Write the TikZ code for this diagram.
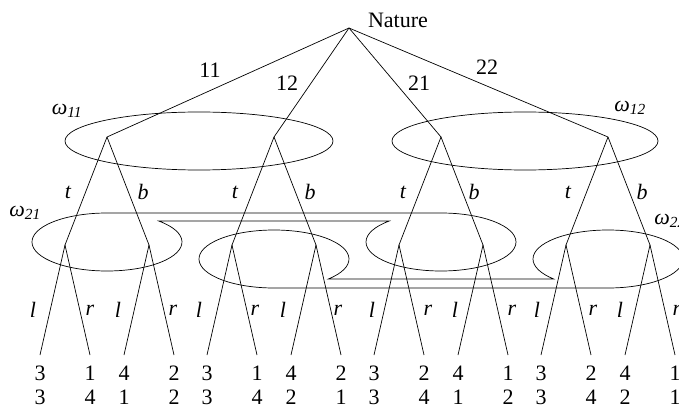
\documentclass[tikz,border=0pt]{standalone}
\usepackage{fontspec}
\setmainfont{Liberation Serif}
\usetikzlibrary{positioning}

\begin{document}
\begin{tikzpicture}[
    x=1pt, y=1pt,
    line width=0.7pt,
    font=\fontsize{22}{24}\selectfont,
    move label/.style={inner sep=0pt},
    act label/.style={inner sep=0pt,font=\fontsize{22}{24}\selectfont\itshape},
    set label/.style={inner sep=0pt},
    payoff/.style={align=center,inner sep=0pt,font=\fontsize{22}{24}\selectfont},
    info set/.style={draw,line width=0.7pt}
]
\useasboundingbox (0,0) rectangle (679,410);
\clip (0,0) rectangle (679,410);

% Nature
\coordinate (nature) at (349,382);
\node[move label] (naturelbl) at (398,390) {Nature};

% Player 1 nodes
\coordinate (n11) at (107,273);
\coordinate (n12) at (274,273);
\coordinate (n21) at (441,273);
\coordinate (n22) at (608,273);

% Player 2 nodes
\coordinate (a1) at (65,165);  \coordinate (a2) at (149,165);
\coordinate (b1) at (232,165); \coordinate (b2) at (316,165);
\coordinate (c1) at (399,165); \coordinate (c2) at (483,165);
\coordinate (d1) at (566,165); \coordinate (d2) at (650,165);

% Leaves
\coordinate (a1l) at (40,55);  \coordinate (a1r) at (90,55);
\coordinate (a2l) at (124,55); \coordinate (a2r) at (174,55);
\coordinate (b1l) at (207,55); \coordinate (b1r) at (257,55);
\coordinate (b2l) at (291,55); \coordinate (b2r) at (341,55);
\coordinate (c1l) at (374,55); \coordinate (c1r) at (424,55);
\coordinate (c2l) at (458,55); \coordinate (c2r) at (508,55);
\coordinate (d1l) at (541,55); \coordinate (d1r) at (591,55);
\coordinate (d2l) at (625,55); \coordinate (d2r) at (675,55);

% Payoffs
\node[payoff, below=11pt of a1l] (pa1l) {3\\3};
\node[payoff, below=11pt of a1r] (pa1r) {1\\4};
\node[payoff, below=11pt of a2l] (pa2l) {4\\1};
\node[payoff, below=11pt of a2r] (pa2r) {2\\2};
\node[payoff, below=11pt of b1l] (pb1l) {3\\3};
\node[payoff, below=11pt of b1r] (pb1r) {1\\4};
\node[payoff, below=11pt of b2l] (pb2l) {4\\2};
\node[payoff, below=11pt of b2r] (pb2r) {2\\1};
\node[payoff, below=11pt of c1l] (pc1l) {3\\3};
\node[payoff, below=11pt of c1r] (pc1r) {2\\4};
\node[payoff, below=11pt of c2l] (pc2l) {4\\1};
\node[payoff, below=11pt of c2r] (pc2r) {1\\2};
\node[payoff, below=11pt of d1l] (pd1l) {3\\3};
\node[payoff, below=11pt of d1r] (pd1r) {2\\4};
\node[payoff, below=11pt of d2l] (pd2l) {4\\2};
\node[payoff, below=11pt of d2r] (pd2r) {1\\1};

% Information sets of player 1
\draw[info set] (199,269) ellipse[x radius=134, y radius=29];
\draw[info set] (525,269) ellipse[x radius=133, y radius=29];
\node[set label] (w11) at (67,299) {\textit{ω}\textsubscript{\textit{11}}};
\node[set label] (w12) at (630,302) {\textit{ω}\textsubscript{\textit{12}}};

% Information sets of player 2
\draw[info set] (158.7,189) arc[start angle=46.4, end angle=-270, x radius=75, y radius=29]
    -- (441,197) arc[start angle=90, end angle=-226.4, x radius=75, y radius=29] -- cycle;
\draw[info set] (328.3,131) arc[start angle=-43.6, end angle=270, x radius=75, y radius=29]
    -- (608,122) arc[start angle=-90, end angle=223.6, x radius=75, y radius=29] -- cycle;
\node[set label] (w21) at (25,197) {\textit{ω}\textsubscript{\textit{21}}};
\node[set label, anchor=west] (w22) at (654,189) {\textit{ω}\textsubscript{\textit{22}}};

% Nature's moves
\draw (nature) -- (n11);
\draw (nature) -- (n12);
\draw (nature) -- (n21);
\draw (nature) -- (n22);
\node[move label] (m11) at (210,340) {11};
\node[move label] (m12) at (287,327) {12};
\node[move label] (m21) at (419,327) {21};
\node[move label] (m22) at (487,343) {22};

% Player 1 moves
\draw (n11) -- (a1); \draw (n11) -- (a2);
\draw (n12) -- (b1); \draw (n12) -- (b2);
\draw (n21) -- (c1); \draw (n21) -- (c2);
\draw (n22) -- (d1); \draw (n22) -- (d2);
\node[act label] (t1) at (68,218) {t};  \node[act label] (b1lbl) at (143,218) {b};
\node[act label] (t2) at (235,218) {t}; \node[act label] (b2lbl) at (310,218) {b};
\node[act label] (t3) at (403,218) {t}; \node[act label] (b3lbl) at (474,218) {b};
\node[act label] (t4) at (568,218) {t}; \node[act label] (b4lbl) at (642,218) {b};

% Player 2 moves
\draw (a1) -- (a1l); \draw (a1) -- (a1r);
\draw (a2) -- (a2l); \draw (a2) -- (a2r);
\draw (b1) -- (b1l); \draw (b1) -- (b1r);
\draw (b2) -- (b2l); \draw (b2) -- (b2r);
\draw (c1) -- (c1l); \draw (c1) -- (c1r);
\draw (c2) -- (c2l); \draw (c2) -- (c2r);
\draw (d1) -- (d1l); \draw (d1) -- (d1r);
\draw (d2) -- (d2l); \draw (d2) -- (d2r);
\node[act label] (la1) at (33,100) {l};  \node[act label] (ra1) at (90,100) {r};
\node[act label] (la2) at (118,100) {l}; \node[act label] (ra2) at (173,100) {r};
\node[act label] (lb1) at (199,100) {l}; \node[act label] (rb1) at (255,100) {r};
\node[act label] (lb2) at (283,100) {l}; \node[act label] (rb2) at (338,100) {r};
\node[act label] (lc1) at (372,100) {l}; \node[act label] (rc1) at (428,100) {r};
\node[act label] (lc2) at (455,100) {l}; \node[act label] (rc2) at (512,100) {r};
\node[act label] (ld1) at (537,100) {l}; \node[act label] (rd1) at (593,100) {r};
\node[act label] (ld2) at (620,100) {l}; \node[act label] (rd2) at (677,100) {r};

\end{tikzpicture}
\end{document}
